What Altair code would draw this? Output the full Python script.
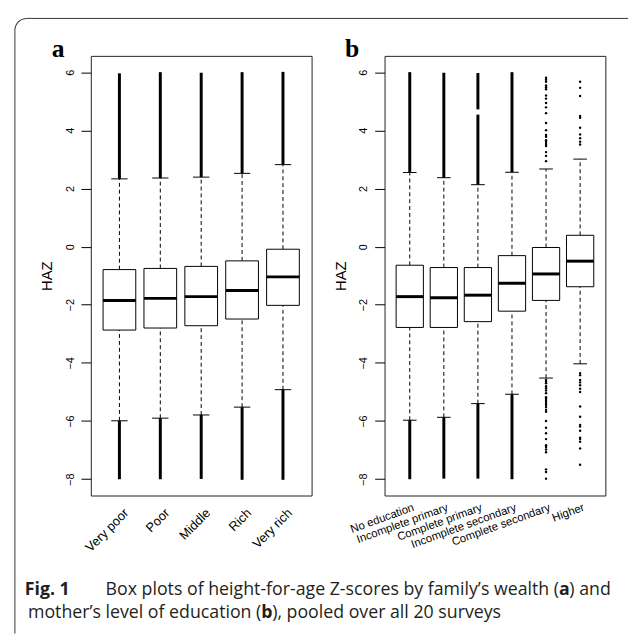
import altair as alt
import pandas as pd
import math

# ---------------- data ----------------
cats_a = ["Very poor", "Poor", "Middle", "Rich", "Very rich"]
q1_a = [-2.87, -2.80, -2.72, -2.49, -2.02]
med_a = [-1.85, -1.78, -1.72, -1.51, -1.04]
q3_a = [-0.79, -0.75, -0.68, -0.49, -0.09]
lo_a = [-5.99, -5.90, -5.79, -5.52, -4.92]
hi_a = [2.33, 2.36, 2.39, 2.52, 2.82]
dense_top_a = [5.96, 6.00, 5.98, 6.00, 6.01]
dense_bot_a = [-8.00, -8.00, -7.99, -8.02, -8.02]

cats_b = ["No education", "Incomplete primary", "Complete primary",
          "Incomplete secondary", "Complete secondary", "Higher"]
q1_b = [-2.78, -2.78, -2.58, -2.22, -1.85, -1.38]
med_b = [-1.72, -1.76, -1.67, -1.26, -0.94, -0.50]
q3_b = [-0.64, -0.72, -0.72, -0.31, -0.03, 0.39]
lo_b = [-5.97, -5.87, -5.40, -5.08, -4.52, -4.03]
hi_b = [2.55, 2.37, 2.13, 2.56, 2.67, 3.01]

# dense runs of outliers (panel b)
dense_cat_b = ["No education", "No education",
               "Incomplete primary", "Incomplete primary",
               "Complete primary", "Complete primary", "Complete primary",
               "Incomplete secondary", "Incomplete secondary"]
dense_from_b = [2.55, -8.00, 2.37, -7.98, 2.13, 4.72, -7.98, 2.56, -8.00]
dense_to_b = [6.00, -5.97, 5.98, -5.87, 4.54, 5.97, -5.40, 6.00, -5.08]

# individual outliers (panel b)
out_cs = [5.81, 5.74, 5.67, 5.54, 5.48, 5.41, 5.20, 5.09, 4.94, 4.79, 4.59,
          4.25, 4.00, 3.84, 3.78, 3.66, 3.60, 3.53, 3.46, 3.25, 3.12, 2.94,
          -4.59, -4.65, -4.70, -4.80, -4.87, -4.95, -5.04, -5.18, -5.24,
          -5.31, -5.38, -5.45, -5.52, -5.61, -5.68, -6.00, -6.23, -6.42,
          -6.62, -6.83, -6.89, -6.98, -7.07, -7.66, -7.75, -7.98]
out_hi = [5.67, 5.46, 5.18, 4.49, 4.43, 4.09, 3.86, 3.73, 3.61, 3.51,
          -4.35, -4.42, -4.59, -4.67, -4.77, -4.89, -5.00, -5.50, -5.85,
          -6.13, -6.19, -6.33, -6.57, -6.62, -6.71, -6.94, -7.50]

y_ticks = [-8, -6, -4, -2, 0, 2, 4, 6]
y_domain = [-8.56, 6.56]

caption1 = ["Fig. 1", "Box plots of height-for-age Z-scores by family\u2019s wealth (", "a", ") and"]
caption2 = ["mother\u2019s level of education (", "b", "), pooled over all 20 surveys"]

W, H = 224, 446
FONT = "Liberation Sans"
CAP_FONT = "Open Sans"
CAP_SIZE = 18


def panel(cats, q1, med, q3, lo, hi, seg_df, pts_df, pad_outer,
          label_angle, label_size, label_pad, label_offset, letter):
    n = len(cats)
    step = W / (n + 2 * pad_outer)
    df = pd.DataFrame({"cat": cats, "q1": q1, "med": med, "q3": q3,
                       "lo": lo, "hi": hi})
    xs = alt.Scale(domain=cats, paddingInner=0, paddingOuter=pad_outer)
    x_axis = alt.Axis(title=None, ticks=False, domain=False,
                      labelAngle=label_angle, labelAlign="right",
                      labelBaseline="top", labelFontSize=label_size,
                      labelFont=FONT, labelColor="black",
                      labelPadding=label_pad, labelOffset=label_offset,
                      labelOverlap=False, labelLimit=300, grid=False)
    ys = alt.Scale(domain=y_domain, nice=False, zero=False)
    y_axis = alt.Axis(values=y_ticks, title="HAZ", grid=False, domain=False,
                      labelAngle=-90, labelAlign="center",
                      labelBaseline="bottom", labelFontSize=11,
                      labelFont=FONT, labelColor="black", labelPadding=6,
                      tickSize=10, tickColor="black",
                      titleFont=FONT, titleFontSize=15,
                      titleFontWeight="normal", titleColor="black",
                      titleAngle=-90, titleX=-45, titleY=223,
                      titleAlign="center", titleBaseline="middle")

    def X():
        return alt.X("cat:N", sort=cats, scale=xs, axis=x_axis)

    def Y(f):
        return alt.Y(f, scale=ys, axis=y_axis, title="HAZ")

    base = alt.Chart(df)
    whisk_up = base.mark_rule(color="black", strokeWidth=1,
                              strokeDash=[4, 3]).encode(
        x=X(), y=Y("q3:Q"), y2="hi:Q")
    whisk_dn = base.mark_rule(color="black", strokeWidth=1,
                              strokeDash=[4, 3]).encode(
        x=X(), y=Y("lo:Q"), y2="q1:Q")
    segs = alt.Chart(seg_df).mark_rule(color="black", strokeWidth=3).encode(
        x=X(), y=Y("y1:Q"), y2="y2:Q")
    layers = [whisk_up, whisk_dn, segs]
    if pts_df is not None:
        pts = alt.Chart(pts_df).mark_circle(color="black", size=6,
                                            opacity=1).encode(
            x=X(), y=Y("v:Q"))
        layers.append(pts)
    box = base.mark_bar(width=alt.RelativeBandSize(0.8), fill="white",
                        stroke="black", strokeWidth=1).encode(
        x=X(), y=Y("q1:Q"), y2="q3:Q")
    medl = base.mark_tick(color="black", thickness=3, opacity=1,
                          size=0.8 * step).encode(
        x=X(), y=Y("med:Q"))
    cap_hi = base.mark_tick(color="black", thickness=1, opacity=1,
                            size=0.4 * step).encode(
        x=X(), y=Y("hi:Q"))
    cap_lo = base.mark_tick(color="black", thickness=1, opacity=1,
                            size=0.4 * step).encode(
        x=X(), y=Y("lo:Q"))
    layers += [box, medl, cap_hi, cap_lo]
    lab = alt.Chart(pd.DataFrame({"t": [letter]})).mark_text(
        font="Liberation Serif", fontWeight="bold", fontSize=26,
        align="center", baseline="alphabetic", color="black").encode(
        text="t:N", x=alt.value(-33), y=alt.value(1))
    layers.append(lab)
    return layers


seg_a = pd.DataFrame({"cat": cats_a + cats_a,
                      "y1": hi_a + dense_bot_a,
                      "y2": dense_top_a + lo_a})
seg_b = pd.DataFrame({"cat": dense_cat_b, "y1": dense_from_b, "y2": dense_to_b})
pts_b = pd.DataFrame({"cat": ["Complete secondary"] * len(out_cs) + ["Higher"] * len(out_hi),
                      "v": out_cs + out_hi})

layers_a = panel(cats_a, q1_a, med_a, q3_a, lo_a, hi_a, seg_a, None, 0.2,
                 -45, 13, 11, 3, "a")
layers_b = panel(cats_b, q1_b, med_b, q3_b, lo_b, hi_b, seg_b, pts_b, 0.24,
                 -20, 11.5, 6, 2, "b")

# outer frame (top and left rules with a rounded corner) and caption,
# placed relative to panel a's plot area (origin at page x=91, y=51)
one = pd.DataFrame({"k": [0]})
R = 12
FL, FT = -77, -38
FRAME_C = "#333333"
frame_top = alt.Chart(one).mark_rule(color=FRAME_C, strokeWidth=1).encode(
    x=alt.value(FL + R), x2=alt.value(545), y=alt.value(FT))
frame_left = alt.Chart(one).mark_rule(color=FRAME_C, strokeWidth=1).encode(
    x=alt.value(FL), y=alt.value(FT + R), y2=alt.value(586))
frame_corner = alt.Chart(one).mark_arc(
    color=FRAME_C, radius=R + 0.5, radius2=R - 0.5,
    theta=1.5 * math.pi, theta2=2 * math.pi).encode(
    x=alt.value(FL + R), y=alt.value(FT + R))


def cap_text(txt, xv, yv, align, bold):
    return alt.Chart(pd.DataFrame({"t": [txt]})).mark_text(
        font=CAP_FONT, fontSize=CAP_SIZE, align=align, baseline="alphabetic",
        fontWeight="bold" if bold else "normal", color="#231f20").encode(
        text="t:N", x=alt.value(xv), y=alt.value(yv))


caps = [
    cap_text(caption1[0], -67, 547, "left", True),
    cap_text(caption1[1], 475, 547, "right", False),
    cap_text(caption1[2], 475, 547, "left", True),
    cap_text(caption1[3], 485.5, 547, "left", False),
    cap_text(caption2[0], 173, 570, "right", False),
    cap_text(caption2[1], 173, 570, "left", True),
    cap_text(caption2[2], 184, 570, "left", False),
]

pa = alt.layer(*(layers_a + [frame_top, frame_left, frame_corner] + caps)).properties(width=W, height=H)
pb = alt.layer(*layers_b).properties(width=W, height=H)

chart = alt.hconcat(pa, pb, spacing=74, bounds="flush").properties(
    padding={"left": 6, "top": 5, "right": 0, "bottom": 0}
).configure_view(stroke="#222222", strokeWidth=1)

chart.save("out.html", embed_options={"renderer": "svg", "actions": False})
